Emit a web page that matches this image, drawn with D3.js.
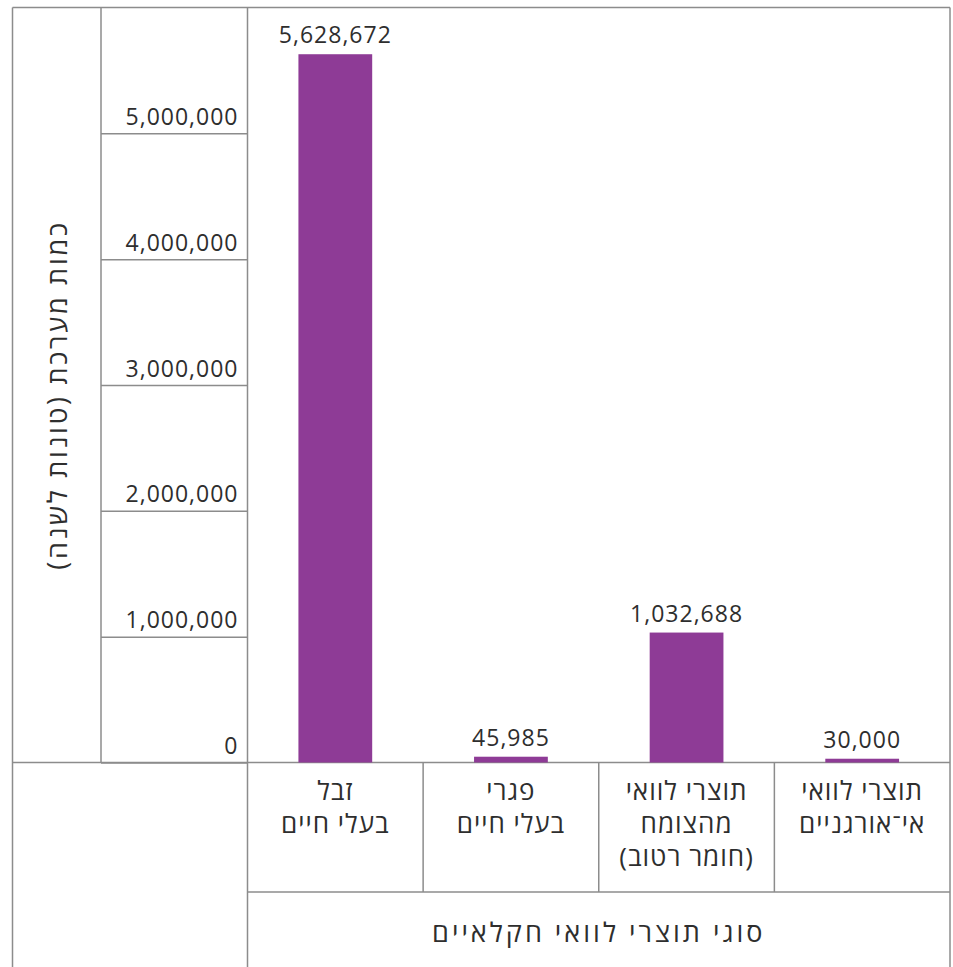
<!DOCTYPE html>
<html>
<head>
<meta charset="utf-8">
<script src="https://cdn.jsdelivr.net/npm/d3@7/dist/d3.min.js"></script>
<style>
  html, body { margin: 0; padding: 0; background: #fff; }
  svg { display: block; }
  text { font-family: "Open Sans", "DejaVu Sans", sans-serif; fill: #2e2e2e; }
</style>
</head>
<body>
<svg id="chart" width="953" height="967"></svg>
<script>
// ---- data ----
const categories = [
  ["זבל", "בעלי חיים"],
  ["פגרי", "בעלי חיים"],
  ["תוצרי לוואי", "מהצומח", "(חומר רטוב)"],
  ["תוצרי לוואי", "אי־אורגניים"]
];
const values = [5628672, 45985, 1032688, 30000];
const tickValues = [0, 1000000, 2000000, 3000000, 4000000, 5000000];
const yTitle = "כמות מערכת (טונות לשנה)";
const xTitle = "סוגי תוצרי לוואי חקלאיים";

// ---- layout ----
const svg = d3.select("#chart");
const L = { outerLeft: 12.5, colLine: 101, plotLeft: 247.5, right: 950, top: 7.5, base: 762.5, catBottom: 892, bottom: 967 };
const lineColor = "#8c8c8c";
const barColor = "#8e3b96";
const fmt = d3.format(",");

const x = d3.scaleBand()
  .domain(d3.range(categories.length))
  .range([L.plotLeft, L.right])
  .paddingInner(0.58)
  .paddingOuter(0.29);
const y = d3.scaleLinear().domain([0, 6000000]).range([L.base, L.top]);

const g = svg.append("g");

// frame lines
const lines = [
  [L.outerLeft, L.top, L.right, L.top],
  [L.outerLeft, L.top, L.outerLeft, L.bottom],
  [L.right, L.top, L.right, L.bottom],
  [L.colLine, L.top, L.colLine, L.base],
  [L.plotLeft, L.top, L.plotLeft, L.bottom],
  [L.outerLeft, L.base, L.right, L.base],
  [L.plotLeft, L.catBottom, L.right, L.catBottom]
];
const step = x.step();
d3.range(1, categories.length).forEach(i => {
  const xs = L.plotLeft + step * i;
  lines.push([xs, L.base, xs, L.catBottom]);
});
g.selectAll("line.frame").data(lines).join("line")
  .attr("class", "frame")
  .attr("x1", d => d[0]).attr("y1", d => d[1])
  .attr("x2", d => d[2]).attr("y2", d => d[3])
  .attr("stroke", lineColor).attr("stroke-width", 1.5);

// y axis in the tick column
const yAxis = d3.axisRight(y).tickValues(tickValues).tickSize(L.plotLeft - L.colLine).tickFormat(fmt);
const ya = g.append("g").attr("transform", `translate(${L.colLine},0)`).call(yAxis);
ya.select(".domain").remove();
ya.selectAll(".tick line").attr("stroke", lineColor).attr("stroke-width", 1.5);
ya.selectAll(".tick text")
  .attr("x", L.plotLeft - L.colLine - 9)
  .attr("dy", -9)
  .attr("text-anchor", "end")
  .style("font-size", "23px")
  .style("font-family", "\"Open Sans\", \"DejaVu Sans\", sans-serif")
  .style("letter-spacing", "1px")
  .attr("fill", "#2e2e2e");

// bars
g.selectAll("rect.bar").data(values).join("rect")
  .attr("class", "bar")
  .attr("x", (d, i) => x(i))
  .attr("width", x.bandwidth())
  .attr("y", d => y(d))
  .attr("height", d => y(0) - y(d))
  .attr("fill", barColor);

// value labels
g.selectAll("text.val").data(values).join("text")
  .attr("class", "val")
  .attr("x", (d, i) => x(i) + x.bandwidth() / 2)
  .attr("y", d => y(d) - 11)
  .attr("text-anchor", "middle")
  .style("font-size", "23px")
  .style("letter-spacing", "1px")
  .text(d => fmt(d));

// category labels
const cat = g.selectAll("text.cat").data(categories).join("text")
  .attr("class", "cat")
  .attr("x", (d, i) => x(i) + x.bandwidth() / 2)
  .attr("y", L.base + 37)
  .attr("text-anchor", "middle")
  .attr("direction", "rtl")
  .style("font-size", "26px")
  .style("letter-spacing", "1px");
cat.selectAll("tspan").data(d => d).join("tspan")
  .attr("x", function () { return d3.select(this.parentNode).attr("x"); })
  .attr("dy", (d, i) => i === 0 ? 0 : 33)
  .text(d => d);

// x title
g.append("text")
  .attr("x", (L.plotLeft + L.right) / 2)
  .attr("y", 942)
  .attr("text-anchor", "middle")
  .attr("direction", "rtl")
  .style("font-size", "27px")
  .style("letter-spacing", "3px")
  .text(xTitle);

// y title
g.append("text")
  .attr("transform", `translate(${(L.outerLeft + L.colLine) / 2 + 10},${(L.top + L.base) / 2 + 10}) rotate(-90)`)
  .attr("text-anchor", "middle")
  .attr("direction", "rtl")
  .style("font-size", "27px")
  .style("letter-spacing", "2.7px")
  .text(yTitle);
</script>
</body>
</html>
